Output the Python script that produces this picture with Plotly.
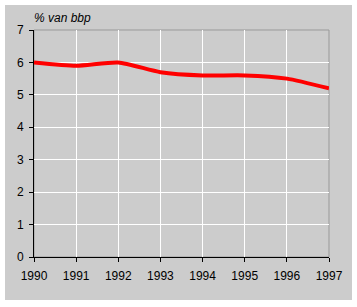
import plotly.graph_objects as go

years = [1990, 1991, 1992, 1993, 1994, 1995, 1996, 1997]
values = [6.0, 5.9, 6.0, 5.7, 5.6, 5.6, 5.5, 5.2]
y_ticks = [0, 1, 2, 3, 4, 5, 6, 7]

W, H = 357, 307
L, R, T, B = 34, 28, 30, 50
pw, ph = W - L - R, H - T - B

def px_x(p):
    return (p - L) / pw

def px_y(p):
    return (H - B - p) / ph

fig = go.Figure()
fig.add_trace(go.Scatter(
    x=years, y=values, mode="lines",
    line=dict(color="#FF0000", width=4, shape="spline", smoothing=0.6),
    hoverinfo="skip", showlegend=False,
))

fig.add_shape(type="rect", xref="paper", yref="paper",
              x0=px_x(5), x1=px_x(352), y0=px_y(300), y1=px_y(5),
              fillcolor="#CCCCCC", line=dict(width=0), layer="below")
fig.add_shape(type="rect", xref="paper", yref="paper",
              x0=0, x1=1, y0=0, y1=1,
              fillcolor="rgba(0,0,0,0)", line=dict(color="#999999", width=1), layer="below")

fig.add_annotation(text="<i>% van bbp</i>", xref="paper", yref="paper",
                   x=px_x(32), y=px_y(18), xanchor="left", yanchor="middle",
                   showarrow=False, font=dict(family="Liberation Sans, Arial", size=12, color="black"))

fig.update_layout(
    width=W, height=H,
    margin=dict(l=L, r=R, t=T, b=B, pad=0),
    paper_bgcolor="white", plot_bgcolor="#CCCCCC",
    font=dict(family="Liberation Sans, Arial", size=12, color="black"),
    xaxis=dict(range=[1990, 1997], tickvals=years, ticktext=[str(y) for y in years],
               showgrid=True, gridcolor="white", gridwidth=1,
               showline=True, linecolor="black", linewidth=1,
               ticks="outside", ticklen=4, tickcolor="black", zeroline=False,
               ticklabelstandoff=4, fixedrange=True),
    yaxis=dict(range=[0, 7], tickvals=y_ticks,
               showgrid=True, gridcolor="white", gridwidth=1,
               showline=True, linecolor="black", linewidth=1,
               ticks="outside", ticklen=4, tickcolor="black", zeroline=False,
               ticklabelstandoff=3, fixedrange=True),
)

fig.write_html("out.html")
